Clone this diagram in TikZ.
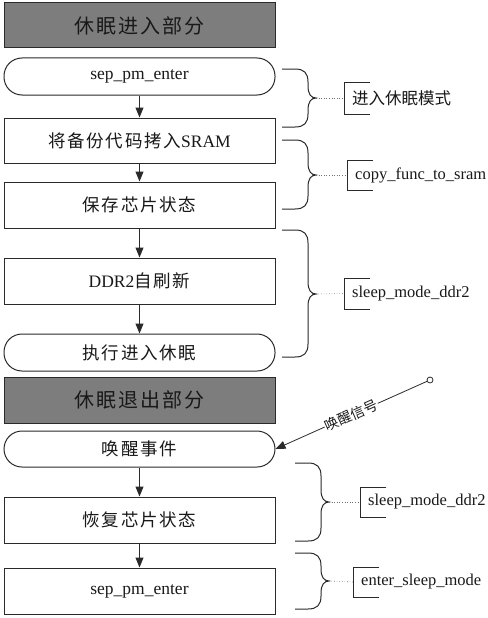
\documentclass[tikz,border=0pt]{standalone}
\usepackage{fontspec}
\setmainfont{Liberation Serif}
\newfontfamily\cjk[LetterSpace=10]{Noto Sans CJK SC}
\newfontfamily\cjkn{Noto Sans CJK SC}
\usetikzlibrary{arrows.meta}
\definecolor{hdrgray}{HTML}{7D7D7D}
\definecolor{linegray}{HTML}{2A2A2A}
\tikzset{
  stepbox/.style={draw=linegray, line width=1pt, minimum width=271pt, inner sep=0pt, fill=white,
    text=black!90, font=\fontsize{17.5}{20}\selectfont},
  termbox/.style={stepbox, rounded corners=18pt},
  headbox/.style={draw=linegray, line width=1pt, fill=hdrgray, minimum width=271pt, inner sep=0pt,
    text=black!90, font=\fontsize{20}{24}\selectfont},
  flow/.style={draw=linegray, line width=1pt, -{Triangle[width=8pt,length=10pt]}},
  bracel/.style={draw=linegray, line width=1pt},
  dotl/.style={draw=black!55, line width=0.6pt, dotted},
  lbl/.style={inner sep=0pt, text=black!90, font=\fontsize{16.5}{19}\selectfont},
}
\newcommand\curlybrace[5]{%
  \draw[bracel] (#2,#3) -- ({#2+13},#3) .. controls ({#2+22},#3) and ({#2+26},{#3+4}) .. ({#2+26},{#3+13})
    -- ({#2+26},{#4-12}) .. controls ({#2+26},{#4-4}) and ({#2+29},#4) .. ({#2+34},#4) coordinate (#1)
    .. controls ({#2+29},#4) and ({#2+26},{#4+4}) .. ({#2+26},{#4+12})
    -- ({#2+26},{#5-13}) .. controls ({#2+26},{#5-4}) and ({#2+22},#5) .. ({#2+13},#5) -- (#2,#5);}
\newcommand\labelbracket[6]{%
  \draw[bracel] ({#2+26},#3) -- (#2,#3) -- (#2,#4) -- ({#2+26},#4);
  \coordinate (#1) at (#2,{(#3+#4)/2});
  \node[lbl, anchor=west] (#6) at ({#2+8},{(#3+#4)/2}) {#5};}
\begin{document}
\begin{tikzpicture}[x=1pt,y=-1pt]
\useasboundingbox[fill=white] (0,0) rectangle (487,618);
% entry part
\node[headbox, minimum height=45pt] (h1) at (139.5,25.5) {\cjk 休眠进入部分};
\node[termbox, minimum height=37pt] (t1) at (139.5,76.5) {sep\_pm\_enter};
\node[stepbox, minimum height=45pt] (b2) at (139.5,140.5) {{\cjk 将备份代码拷入}SRAM};
\node[stepbox, minimum height=46pt] (b3) at (139.5,205) {\cjk 保存芯片状态};
\node[stepbox, minimum height=46pt] (b4) at (139.5,281) {DDR2{\cjk 自刷新}};
\node[termbox, minimum height=37pt] (t2) at (139.5,352.5) {\cjk 执行进入休眠};
% exit part
\node[headbox, minimum height=46pt] (h2) at (139.5,400) {\cjk 休眠退出部分};
\node[termbox, minimum height=36pt] (wake) at (139.5,449) {\cjk 唤醒事件};
\node[stepbox, minimum height=46pt] (b5) at (139.5,520) {\cjk 恢复芯片状态};
\node[stepbox, minimum height=46pt] (b6) at (139.5,591) {sep\_pm\_enter};
% flow arrows
\draw[flow] (t1) -- (b2);
\draw[flow] (b2) -- (b3);
\draw[flow] (b3) -- (b4);
\draw[flow] (b4) -- (t2);
\draw[flow] (wake) -- (b5);
\draw[flow] (b5) -- (b6);
% braces and labels
\curlybrace{tp1}{282}{69}{98}{127}
\labelbracket{lb1}{344}{82}{114}{\cjkn 进入休眠模式}{l1}
\draw[dotl] (tp1) -- (lb1);
\curlybrace{tp2}{282}{140}{175}{209}
\labelbracket{lb2}{347}{160}{190}{copy\_func\_to\_sram}{l2}
\draw[dotl] (tp2) -- (lb2);
\curlybrace{tp3}{282}{230}{294}{357}
\labelbracket{lb3}{344}{278}{309}{sleep\_mode\_ddr2}{l3}
\draw[dotl] (tp3) -- (lb3);
\curlybrace{tp4}{295}{463}{502}{541}
\labelbracket{lb4}{360}{487}{517}{sleep\_mode\_ddr2}{l4}
\draw[dotl] (tp4) -- (lb4);
\curlybrace{tp5}{295}{553}{581}{609}
\labelbracket{lb5}{353}{567}{597}{enter\_sleep\_mode}{l5}
\draw[dotl] (tp5) -- (lb5);
% wake signal
\node[circle, draw=linegray, line width=0.8pt, fill=white, inner sep=0pt, minimum size=6pt] (sig) at (430,380) {};
\draw[draw=linegray, line width=0.8pt, -{Triangle[width=8pt,length=10pt]}] (sig) --
  node[sloped, fill=white, inner sep=1pt, text=black!90, font=\fontsize{14}{16}\selectfont] (sigl) {\cjkn 唤醒信号} (wake.east);
\end{tikzpicture}
\end{document}
